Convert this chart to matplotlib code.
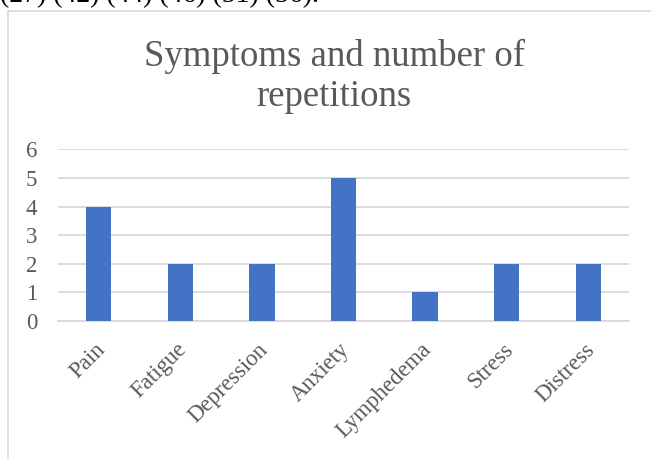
import matplotlib.pyplot as plt
from matplotlib.patches import Rectangle
import matplotlib.transforms as mtransforms

plt.rcParams["font.family"] = ["Liberation Serif", "DejaVu Serif"]

# data
symptoms = ["Pain", "Fatigue", "Depression", "Anxiety", "Lymphedema", "Stress", "Distress"]
repetitions = [4, 2, 2, 5, 1, 2, 2]
y_ticks = [0, 1, 2, 3, 4, 5, 6]

bar_color = "#4472C4"
text_color = "#595959"
grid_color = "#D9D9D9"

W, H = 651, 459
fig = plt.figure(figsize=(W / 100, H / 100), dpi=100)

# cropped line of text from the page above the chart
fig.text(0 / W, 1 - 2 / H, "(27) (42) (44) (46) (51) (56).", fontsize=20,
         color="black", ha="left", va="baseline")

# chart frame (runs off the right and bottom of the picture)
fig.patches.append(Rectangle((8 / W, -0.1), 1.2, 1 - 11 / H + 0.1,
                             transform=fig.transFigure, fill=False,
                             edgecolor=grid_color, linewidth=1.2))

ax = fig.add_axes([58 / W, 1 - 321 / H, (629 - 58) / W, (321 - 149.3) / H])
x = range(len(symptoms))
ax.bar(x, repetitions, width=0.31, color=bar_color, zorder=3)

ax.set_xlim(-0.5, len(symptoms) - 0.5)
ax.set_ylim(0, 6)
ax.set_yticks(y_ticks)
ax.set_yticklabels([str(t) for t in y_ticks])
ax.set_xticks(list(x))
ax.set_xticklabels(symptoms, rotation=45, ha="right", rotation_mode="anchor")

ax.grid(axis="y", color=grid_color, linewidth=1.3, zorder=0)
ax.tick_params(axis="both", length=0, labelsize=16.5, colors=text_color)
ax.tick_params(axis="y", pad=15)
ax.tick_params(axis="x", pad=13)
# nudge rotated labels a little to the left
shift = mtransforms.ScaledTranslation(-3 / 72, 0, fig.dpi_scale_trans)
for lbl in ax.get_xticklabels():
    lbl.set_transform(lbl.get_transform() + shift)
for side in ["top", "right", "left"]:
    ax.spines[side].set_visible(False)
ax.spines["bottom"].set_color(grid_color)
ax.spines["bottom"].set_linewidth(1.3)

# two-line title
fig.text(334 / W, 1 - 66 / H, "Symptoms and number of", fontsize=26.5,
         color=text_color, ha="center", va="baseline")
fig.text(334 / W, 1 - 106 / H, "repetitions", fontsize=26.5,
         color=text_color, ha="center", va="baseline")

fig.savefig("out.png", dpi=100)
